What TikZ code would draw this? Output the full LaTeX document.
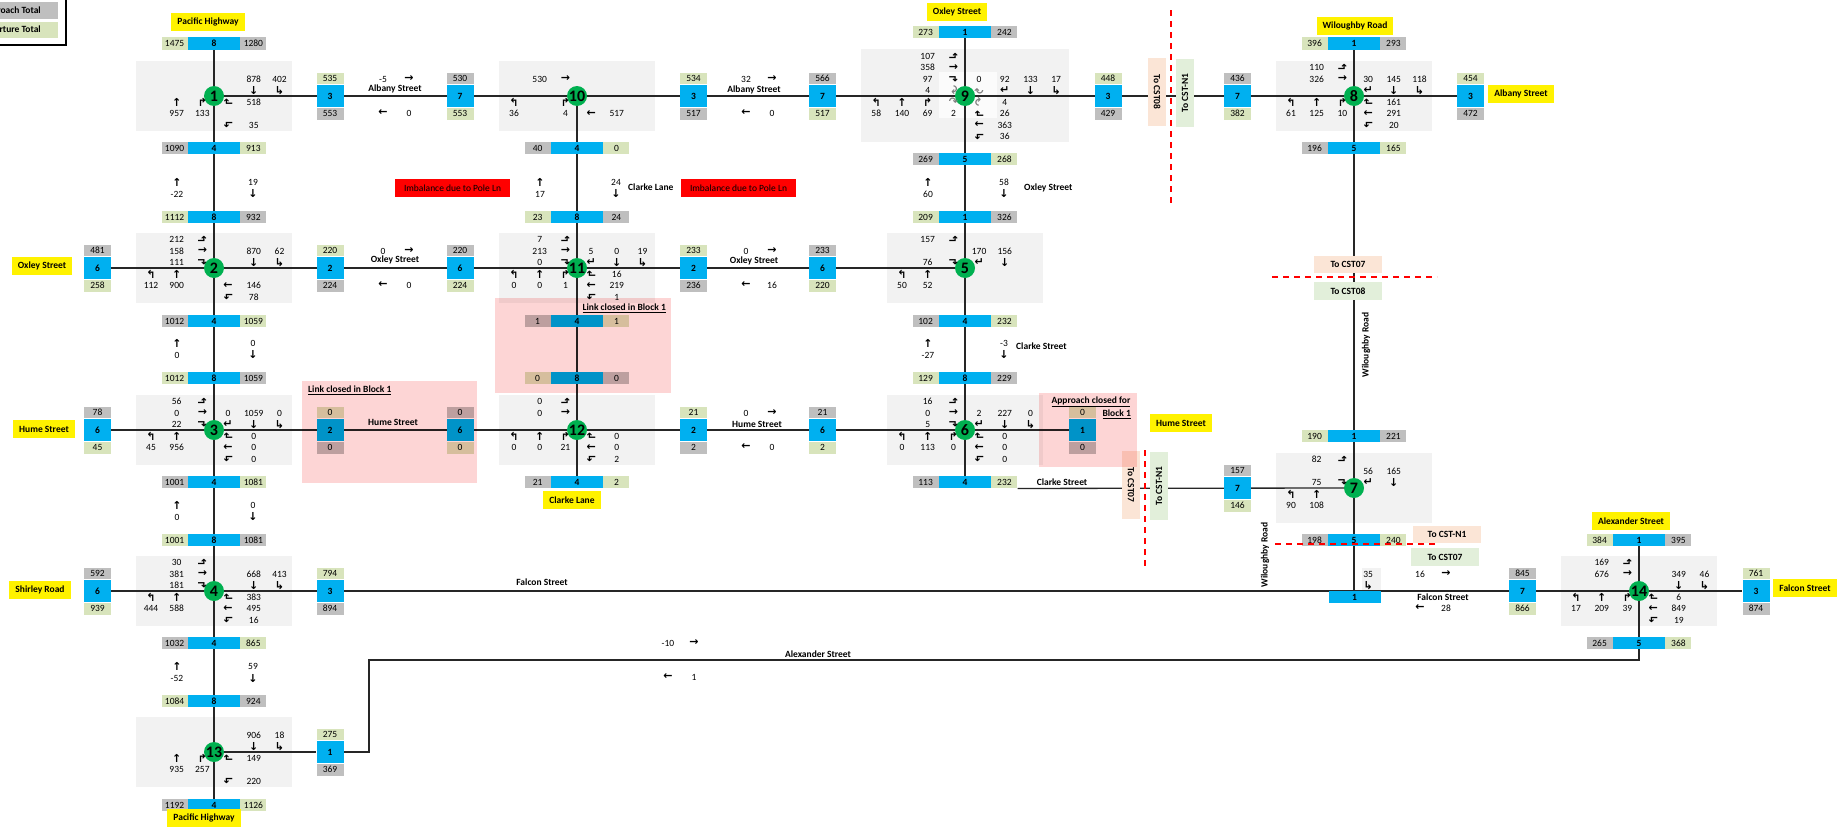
\documentclass[tikz,border=0pt]{standalone}
\usepackage{fontspec}
\setmainfont{Carlito}
\newfontfamily\arwfont{DejaVu Sans}
\usepackage{graphicx}
\usetikzlibrary{calc}
\definecolor{cblue}{HTML}{00B0F0}
\definecolor{cgrey}{HTML}{BFBFBF}
\definecolor{cgreen}{HTML}{D8E4BC}
\definecolor{boxgrey}{HTML}{F2F2F2}
\definecolor{jgreen}{HTML}{00B050}
\definecolor{peach}{HTML}{FBE5D6}
\definecolor{mint}{HTML}{E2EFDA}
\definecolor{closed}{HTML}{FDD5D5}
\pgfdeclarelayer{bg}
\pgfdeclarelayer{roads}
\pgfdeclarelayer{top}
\pgfsetlayers{bg,roads,main,top}
% turning arrows
\newcommand{\tUp}{↑}
\newcommand{\tDn}{↓}
\newcommand{\tLt}{←}
\newcommand{\tRt}{→}
\newcommand{\sLt}{↰}
\newcommand{\sRt}{↱}
\newcommand{\nLt}{↳}
\newcommand{\nRt}{↵}
\newcommand{\eRt}{\rotatebox[origin=c]{90}{↱}}
\newcommand{\eLt}{\rotatebox[origin=c]{90}{↰}}
\newcommand{\wLt}{\rotatebox[origin=c]{-90}{↰}}
\newcommand{\wRt}{\rotatebox[origin=c]{-90}{↱}}
\newcommand{\uS}{\textcolor{black!50}{↷}}
\newcommand{\uN}{\textcolor{black!50}{\rotatebox[origin=c]{180}{↷}}}
\newcommand{\uE}{\textcolor{black!50}{\rotatebox[origin=c]{90}{↷}}}
\newcommand{\uW}{\textcolor{black!50}{\rotatebox[origin=c]{-90}{↷}}}
% bars across a road: name, position, colours and counts
\newcommand{\crossbar}[7]{%
  \node[blu, minimum width=52pt, minimum height=12.5pt] (#1) at (#2) {#5};
  \node[cell=#3, anchor=east] (#1-l) at (#1.west) {#4};
  \node[cell=#6, anchor=west] (#1-r) at (#1.east) {#7};}
\newcommand{\nbar}[5]{\crossbar{#1}{#2}{cgreen}{#3}{#4}{cgrey}{#5}}
\newcommand{\sbar}[5]{\crossbar{#1}{#2}{cgrey}{#3}{#4}{cgreen}{#5}}
\newcommand{\linkbar}[7]{%
  \node[blu, minimum width=27pt, minimum height=22.5pt] (#1) at (#2) {#5};
  \node[cell=#3, minimum width=27pt, minimum height=11.5pt, anchor=south] (#1-t) at (#1.north) {#4};
  \node[cell=#6, minimum width=27pt, minimum height=12pt, anchor=north] (#1-b) at (#1.south) {#7};}
\newcommand{\ebar}[5]{\linkbar{#1}{#2}{cgreen}{#3}{#4}{cgrey}{#5}}
\newcommand{\wbar}[5]{\linkbar{#1}{#2}{cgrey}{#3}{#4}{cgreen}{#5}}
% movements per approach
\newcommand{\wapp}[2]{\foreach \mr/\mg/\mt in {#2}{%
  \node[num] at ($(#1)+(-37.3,{-28.5+11.5*\mr})$) {\mt};
  \node[arw] at ($(#1)+(-11.6,{-28.5+11.5*\mr})$) {\mg};}}
\newcommand{\eapp}[2]{\foreach \mr/\mg/\mt in {#2}{%
  \node[arw] at ($(#1)+(14.1,{-28.5+11.5*\mr})$) {\mg};
  \node[num] at ($(#1)+(39.8,{-28.5+11.5*\mr})$) {\mt};}}
\newcommand{\napp}[2]{\foreach \mc/\mg/\mt in {#2}{%
  \node[num] at ($(#1)+({-63+25.7*\mc},-17)$) {\mt};
  \node[arw] at ($(#1)+({-63+25.7*\mc},-5.5)$) {\mg};}}
\newcommand{\sapp}[2]{\foreach \mc/\mg/\mt in {#2}{%
  \node[arw] at ($(#1)+({-63+25.7*\mc},6)$) {\mg};
  \node[num] at ($(#1)+({-63+25.7*\mc},17.5)$) {\mt};}}
% link volumes
\newcommand{\vlink}[4]{%
  \node[arw] at (#1-37,#2) {\tUp}; \node[num] at (#1-37,#2+12) {#3};
  \node[num] at (#1+39,#2) {#4}; \node[arw] at (#1+39,#2+12) {\tDn};}
\newcommand{\hlink}[4]{%
  \node[num] at (#1,#2-17) {#3}; \node[arw] at (#1+26,#2-17) {\tRt};
  \node[arw] at (#1,#2+17) {\tLt}; \node[num] at (#1+26,#2+17) {#4};}

\begin{document}
\begin{tikzpicture}[x=1pt, y=-1pt,
  font=\fontsize{9.5}{11}\selectfont,
  num/.style={inner sep=0pt},
  arw/.style={inner sep=0pt, font=\arwfont\bfseries\fontsize{11}{11}\selectfont},
  cell/.style={fill=#1, inner sep=0pt, minimum width=26pt, minimum height=12.5pt},
  blu/.style={fill=cblue, inner sep=0pt, font=\bfseries\fontsize{9.5}{11}\selectfont},
  jn/.style={circle, fill=jgreen, inner sep=0pt, minimum size=20pt, font=\bfseries\fontsize{16}{16}\selectfont},
  road/.style={line width=1.3pt, black!85},
  gbox/.style={fill=boxgrey},
  street/.style={inner sep=0pt, font=\bfseries\fontsize{9.5}{11}\selectfont},
  tag/.style={street, fill=yellow, inner xsep=6pt, minimum height=18pt},
  cst/.style={street, minimum width=68pt, minimum height=17.5pt},
  imb/.style={fill=red, minimum width=115pt, minimum height=18pt, inner sep=0pt, text=black, font=\fontsize{9.5}{11}\selectfont},
  cut/.style={red, line width=1.8pt, dash pattern=on 6pt off 5pt},
]
\useasboundingbox (0,0) rectangle (1838,827);

% junctions
\node[jn] (n1) at (214,96) {1};
\node[jn] (n2) at (214,268) {2};
\node[jn] (n3) at (214,430) {3};
\node[jn] (n4) at (214,591) {4};
\node[jn] (n13) at (214,752) {13};
\node[jn] (n10) at (577,96) {10};
\node[jn] (n11) at (577,268) {11};
\node[jn] (n12) at (577,430) {12};
\node[jn] (n9) at (965,96) {9};
\node[jn] (n5) at (965,268) {5};
\node[jn] (n6) at (965,430) {6};
\node[jn] (n8) at (1354,96) {8};
\node[jn] (n7) at (1354,488) {7};
\node[jn] (n14) at (1639,591) {14};
\coordinate (fw) at (1354,591);
\coordinate (alx1) at (1639,660);
\coordinate (alx2) at (369,660);
\coordinate (alx3) at (369,752);

% bars across the north-south roads
\nbar{n1n}{214,43.5}{1475}{8}{1280}
\sbar{n1s}{214,148}{1090}{4}{913}
\nbar{n2n}{214,217}{1112}{8}{932}
\sbar{n2s}{214,321}{1012}{4}{1059}
\nbar{n3n}{214,378}{1012}{8}{1059}
\sbar{n3s}{214,482}{1001}{4}{1081}
\nbar{n4n}{214,540}{1001}{8}{1081}
\sbar{n4s}{214,643}{1032}{4}{865}
\nbar{n13n}{214,701}{1084}{8}{924}
\sbar{n13s}{214,805}{1192}{4}{1126}
\sbar{n10s}{577,148}{40}{4}{0}
\nbar{n11n}{577,217}{23}{8}{24}
\sbar{n11s}{577,321}{1}{4}{1}
\nbar{n12n}{577,378}{0}{8}{0}
\sbar{n12s}{577,482}{21}{4}{2}
\nbar{n9n}{965,32}{273}{1}{242}
\sbar{n9s}{965,159}{269}{5}{268}
\nbar{n5n}{965,217}{209}{1}{326}
\sbar{n5s}{965,321}{102}{4}{232}
\nbar{n6n}{965,378}{129}{8}{229}
\sbar{n6s}{965,482}{113}{4}{232}
\nbar{n8n}{1354,43.5}{396}{1}{293}
\sbar{n8s}{1354,148}{196}{5}{165}
\nbar{n7n}{1354,436}{190}{1}{221}
\sbar{n7s}{1354,540}{198}{5}{240}
\nbar{n14n}{1639,540}{384}{1}{395}
\sbar{n14s}{1639,643}{265}{5}{368}
\node[blu, minimum width=52pt, minimum height=12.5pt] (fs) at (1354.5,597) {1};

% bars across the east-west roads
\ebar{n1e}{330,96}{535}{3}{553}
\ebar{n2e}{330,268}{220}{2}{224}
\ebar{n3e}{330,430}{0}{2}{0}
\ebar{n4e}{330,591}{794}{3}{894}
\ebar{n13e}{330,752}{275}{1}{369}
\ebar{n10e}{693.5,96}{534}{3}{517}
\ebar{n11e}{693.5,268}{233}{2}{236}
\ebar{n12e}{693.5,430}{21}{2}{2}
\ebar{n9e}{1108,96}{448}{3}{429}
\ebar{n6e}{1082.5,430}{0}{1}{0}
\ebar{n8e}{1470.5,96}{454}{3}{472}
\ebar{n14e}{1756,591}{761}{3}{874}
\wbar{n2w}{97.5,268}{481}{6}{258}
\wbar{n3w}{97.5,430}{78}{6}{45}
\wbar{n4w}{97.5,591}{592}{6}{939}
\wbar{n10w}{460,96}{530}{7}{553}
\wbar{n11w}{460,268}{220}{6}{224}
\wbar{n12w}{460,430}{0}{6}{0}
\wbar{n9w}{822.5,96}{566}{7}{517}
\wbar{n5w}{822.5,268}{233}{6}{220}
\wbar{n6w}{822.5,430}{21}{6}{2}
\wbar{n8w}{1237.5,96}{436}{7}{382}
\wbar{n7w}{1237.5,488}{157}{7}{146}
\wbar{n14w}{1522.5,591}{845}{7}{866}

% turning counts
\napp{n1}{4/\tDn/878, 5/\nLt/402}
\eapp{n1}{3/\eRt/518, 5/\eLt/35}
\sapp{n1}{1/\tUp/957, 2/\sRt/133}
\wapp{n2}{0/\wLt/212, 1/\tRt/158, 2/\wRt/111}
\napp{n2}{4/\tDn/870, 5/\nLt/62}
\sapp{n2}{0/\sLt/112, 1/\tUp/900}
\eapp{n2}{4/\tLt/146, 5/\eLt/78}
\wapp{n3}{0/\wLt/56, 1/\tRt/0, 2/\wRt/22}
\napp{n3}{3/\nRt/0, 4/\tDn/1059, 5/\nLt/0}
\sapp{n3}{0/\sLt/45, 1/\tUp/956}
\eapp{n3}{3/\eRt/0, 4/\tLt/0, 5/\eLt/0}
\wapp{n4}{0/\wLt/30, 1/\tRt/381, 2/\wRt/181}
\napp{n4}{4/\tDn/668, 5/\nLt/413}
\sapp{n4}{0/\sLt/444, 1/\tUp/588}
\eapp{n4}{3/\eRt/383, 4/\tLt/495, 5/\eLt/16}
\napp{n13}{4/\tDn/906, 5/\nLt/18}
\sapp{n13}{1/\tUp/935, 2/\sRt/257}
\eapp{n13}{3/\eRt/149, 5/\eLt/220}
\wapp{n10}{1/\tRt/530}
\sapp{n10}{0/\sLt/36, 2/\sRt/4}
\eapp{n10}{4/\tLt/517}
\wapp{n11}{0/\wLt/7, 1/\tRt/213, 2/\wRt/0}
\napp{n11}{3/\nRt/5, 4/\tDn/0, 5/\nLt/19}
\sapp{n11}{0/\sLt/0, 1/\tUp/0, 2/\sRt/1}
\eapp{n11}{3/\eRt/16, 4/\tLt/219, 5/\eLt/1}
\wapp{n12}{0/\wLt/0, 1/\tRt/0}
\sapp{n12}{0/\sLt/0, 1/\tUp/0, 2/\sRt/21}
\eapp{n12}{3/\eRt/0, 4/\tLt/0, 5/\eLt/2}
\wapp{n9}{-1/\wLt/107, 0/\tRt/358, 1/\wRt/97, 2/\uW/4}
\napp{n9}{3/\uN/0, 4/\nRt/92, 5/\tDn/133, 6/\nLt/17}
\sapp{n9}{-1/\sLt/58, 0/\tUp/140, 1/\sRt/69, 2/\uS/2}
\eapp{n9}{3/\uE/4, 4/\eRt/26, 5/\tLt/363, 6/\eLt/36}
\wapp{n5}{0/\wLt/157, 2/\wRt/76}
\napp{n5}{3/\nRt/170, 4/\tDn/156}
\sapp{n5}{0/\sLt/50, 1/\tUp/52}
\wapp{n6}{0/\wLt/16, 1/\tRt/0, 2/\wRt/5}
\napp{n6}{3/\nRt/2, 4/\tDn/227, 5/\nLt/0}
\sapp{n6}{0/\sLt/0, 1/\tUp/113, 2/\sRt/0}
\eapp{n6}{3/\eRt/0, 4/\tLt/0, 5/\eLt/0}
\wapp{n8}{0/\wLt/110, 1/\tRt/326}
\napp{n8}{3/\nRt/30, 4/\tDn/145, 5/\nLt/118}
\sapp{n8}{0/\sLt/61, 1/\tUp/125, 2/\sRt/10}
\eapp{n8}{3/\eRt/161, 4/\tLt/291, 5/\eLt/20}
\wapp{n7}{0/\wLt/82, 2/\wRt/75}
\napp{n7}{3/\nRt/56, 4/\tDn/165}
\sapp{n7}{0/\sLt/90, 1/\tUp/108}
\napp{fw}{3/\nLt/35}
\wapp{n14}{0/\wLt/169, 1/\tRt/676}
\napp{n14}{4/\tDn/349, 5/\nLt/46}
\sapp{n14}{0/\sLt/17, 1/\tUp/209, 2/\sRt/39}
\eapp{n14}{3/\eRt/6, 4/\tLt/849, 5/\eLt/19}

% link volumes
\vlink{214}{182}{-22}{19}
\vlink{214}{343}{0}{0}
\vlink{214}{505}{0}{0}
\vlink{214}{666}{-52}{59}
\vlink{577}{182}{17}{24}
\vlink{965}{182}{60}{58}
\vlink{965}{343}{-27}{-3}
\hlink{383}{96}{-5}{0}
\hlink{383}{268}{0}{0}
\hlink{746}{96}{32}{0}
\hlink{746}{268}{0}{16}
\hlink{746}{430}{0}{0}
\hlink{668}{660}{-10}{1}
\hlink{1420}{591}{16}{28}

% street names
\node[street] (albany1) at (395,89) {Albany Street};
\node[street] (albany2) at (754,90) {Albany Street};
\node[street] (oxley1) at (395,260) {Oxley Street};
\node[street] (oxley2) at (754,261) {Oxley Street};
\node[street] (hume1) at (393,422) {Hume Street};
\node[street] (hume2) at (757,424) {Hume Street};
\node[street, anchor=west] (clarkeln) at (628,187) {Clarke Lane};
\node[street, anchor=west] (oxley3) at (1024,188) {Oxley Street};
\node[street, anchor=west] (clarkest1) at (1016,346) {Clarke Street};
\node[street] (clarkest2) at (1062,482) {Clarke Street};
\node[street] (falcon1) at (542,582) {Falcon Street};
\node[street] (falcon2) at (1443,597) {Falcon Street};
\node[street] (alex) at (818,654) {Alexander Street};
\node[street, rotate=90] (wil1) at (1366,345) {Wiloughby Road};
\node[street, rotate=90] (wil2) at (1265,555) {Wiloughby Road};

\node[tag] (t-pac1) at (208,22) {Pacific Highway};
\node[tag] (t-pac2) at (204,818) {Pacific Highway};
\node[tag] (t-oxw) at (42,266) {Oxley Street};
\node[tag] (t-huw) at (44,429) {Hume Street};
\node[tag] (t-shi) at (40,590) {Shirley Road};
\node[tag] (t-oxn) at (957,12) {Oxley Street};
\node[tag] (t-wil) at (1355,26) {Wiloughby Road};
\node[tag] (t-alb) at (1521,94) {Albany Street};
\node[tag] (t-cla) at (572,500) {Clarke Lane};
\node[tag] (t-hue) at (1181,423) {Hume Street};
\node[tag] (t-alx) at (1631,521) {Alexander Street};
\node[tag] (t-fal) at (1805,588) {Falcon Street};

\node[imb] (imb1) at (452.5,188) {Imbalance due to Pole Ln};
\node[imb] (imb2) at (738.5,188) {Imbalance due to Pole Ln};

\node[cst, fill=peach, rotate=-90] (c1) at (1157,92) {To CST08};
\node[cst, fill=mint, rotate=90] (c2) at (1185,93) {To CST-N1};
\node[cst, fill=peach] (c3) at (1348,264.5) {To CST07};
\node[cst, fill=mint] (c4) at (1348,291) {To CST08};
\node[cst, fill=peach, rotate=-90] (c5) at (1131,485) {To CST07};
\node[cst, fill=mint, rotate=90] (c6) at (1159,486) {To CST-N1};
\node[cst, fill=peach] (c7) at (1447,534.5) {To CST-N1};
\node[cst, fill=mint] (c8) at (1445,557) {To CST07};

% legend
\fill[cgrey] (-60,2) rectangle (58,19);
\fill[cgreen] (-60,22) rectangle (58,38);
\node[street, anchor=east] (lg-a) at (41,10.5) {Approach Total};
\node[street, anchor=east] (lg-d) at (41,30) {Departure Total};
\draw[line width=1.4pt] (-60,-10) rectangle (66,45);

\begin{pgfonlayer}{bg}
  \fill[white] (0,0) rectangle (1838,827);
  \foreach \j in {n1,n2,n3,n4,n13,n10,n11,n12,n5,n6,n8,n7,n14}
    \fill[gbox] ($(\j)+(-78,-35)$) rectangle ($(\j)+(78,35)$);
  \fill[gbox] ($(n9)+(-104,-47)$) rectangle ($(n9)+(104,46)$);
  \fill[white, opacity=.75] ($(n9)+(-26,-24)$) rectangle ($(n9)+(32,22)$);
  \fill[gbox] (1362,568) rectangle (1381,590);
\end{pgfonlayer}

\begin{pgfonlayer}{roads}
  \draw[road] (n1n) -- (n13s);
  \draw[road] (n10) -- (n12s);
  \draw[road] (n9n) -- (n6s);
  \draw[road] (n8n) -- (fw);
  \draw[road] (n1) -- (n8e);
  \draw[road] (n2w) -- (n5);
  \draw[road] (n3w) -- (n6e);
  \draw[road] (n6s-r.south east) -- (n7);
  \draw[road] (n4w) -- (n14e);
  \draw[road] (n14n) -- (n14s) -- (alx1) -- (alx2) -- (alx3) -- (n13e);
  \draw[road] (n13) -- (n13e);
\end{pgfonlayer}

\begin{pgfonlayer}{top}
  \begin{scope}[blend mode=multiply]
    \fill[closed] (495,298) rectangle (671,393);
    \fill[closed] (302,381) rectangle (477,483);
    \fill[closed] (1039,393) rectangle (1137,467);
  \end{scope}
  \node[street, anchor=east] (shut1) at (666,308) {\underline{Link closed in Block 1}};
  \node[street, anchor=west] (shut2) at (308,390) {\underline{Link closed in Block 1}};
  \node[street] (shut3a) at (1091,402) {\underline{Approach closed for}};
  \node[street, anchor=east] (shut3b) at (1131,414) {\underline{Block 1}};
  \draw[cut] (1171,10) -- (1171,207);
  \draw[cut] (1272,277) -- (1437,277);
  \draw[cut] (1145,450) -- (1145,567);
  \draw[cut] (1275,544) -- (1439,544);
\end{pgfonlayer}
\end{tikzpicture}
\end{document}
